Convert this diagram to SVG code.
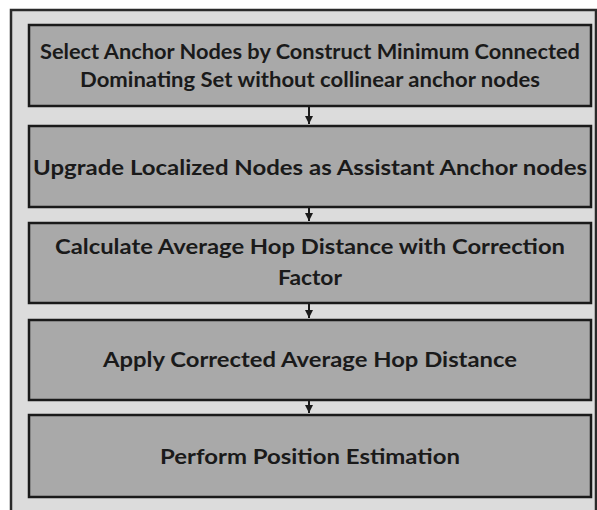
<svg xmlns="http://www.w3.org/2000/svg" width="597" height="510" viewBox="0 0 597 510">
  <style>
    .frame { fill: #dcdcdc; stroke: #2a2a2a; stroke-width: 2.5; }
    .step rect { fill: #a9a9a9; stroke: #1a1a1a; stroke-width: 2.5; }
    .step text { font-family: Lato, "Open Sans", "Liberation Sans", sans-serif; font-weight: bold; font-size: 21px; fill: #1a1a1a; text-anchor: middle; }
    .conn line { stroke: #1a1a1a; stroke-width: 2; }
  </style>
  <defs>
    <marker id="arrow" markerWidth="8" markerHeight="8" refX="8" refY="4" orient="auto" markerUnits="userSpaceOnUse">
      <path d="M0,0 L8,4 L0,8 Z" fill="#1a1a1a"/>
    </marker>
  </defs>

  <!-- outer frame -->
  <rect class="frame" x="11" y="10" width="585" height="510"/>

  <g id="step1" class="step">
    <rect x="29" y="25" width="562" height="81"/>
    <text x="310" y="59" textLength="540" lengthAdjust="spacingAndGlyphs">Select Anchor Nodes by Construct Minimum Connected</text>
    <text x="310" y="87" textLength="460" lengthAdjust="spacingAndGlyphs">Dominating Set without collinear anchor nodes</text>
  </g>

  <g id="step2" class="step">
    <rect x="29" y="126" width="562" height="81"/>
    <text x="310" y="175" textLength="554" lengthAdjust="spacingAndGlyphs">Upgrade Localized Nodes as Assistant Anchor nodes</text>
  </g>

  <g id="step3" class="step">
    <rect x="29" y="223" width="562" height="80"/>
    <text x="310" y="254" textLength="510" lengthAdjust="spacingAndGlyphs">Calculate Average Hop Distance with Correction</text>
    <text x="310" y="285" textLength="64" lengthAdjust="spacingAndGlyphs">Factor</text>
  </g>

  <g id="step4" class="step">
    <rect x="29" y="320" width="562" height="80"/>
    <text x="310" y="367" textLength="414" lengthAdjust="spacingAndGlyphs">Apply Corrected Average Hop Distance</text>
  </g>

  <g id="step5" class="step">
    <rect x="29" y="415" width="562" height="82"/>
    <text x="310" y="464" textLength="300" lengthAdjust="spacingAndGlyphs">Perform Position Estimation</text>
  </g>

  <g id="connectors" class="conn">
    <line x1="309" y1="107" x2="309" y2="124" marker-end="url(#arrow)"/>
    <line x1="309" y1="208" x2="309" y2="221" marker-end="url(#arrow)"/>
    <line x1="309" y1="304" x2="309" y2="318" marker-end="url(#arrow)"/>
    <line x1="309" y1="401" x2="309" y2="413" marker-end="url(#arrow)"/>
  </g>
</svg>
